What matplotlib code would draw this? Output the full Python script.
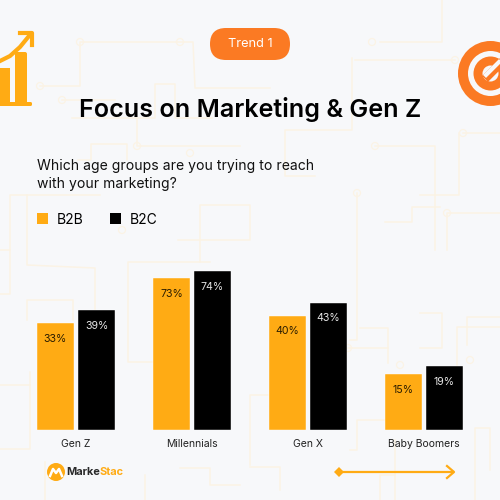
import numpy as np
import matplotlib
matplotlib.use('Agg')
import matplotlib.pyplot as plt
from matplotlib.patches import Circle, FancyBboxPatch, Polygon, Rectangle

plt.rcParams['font.family'] = ['Inter', 'DejaVu Sans']

# bar heights as drawn (they do not follow the printed percentages in the source)
categories = ['Gen Z', 'Millennials', 'Gen X', 'Baby Boomers']
b2b_heights = [107, 152, 114.5, 56]
b2c_heights = [120, 159, 127.5, 64]
b2b_labels = ['33%', '73%', '40%', '15%']
b2c_labels = ['39%', '74%', '43%', '19%']

ORANGE = '#fb7a23'
YELLOW = '#ffab14'
BG = '#f7f8fa'
TRACE = '#fbf3e5'

# faint circuit board lines in the background
traces = [
    [(40, 86), (80, 86), (80, 42), (193, 42), (195, 88), (270, 88)],
    [(62, 100), (115, 100)],
    [(72, 118), (155, 118), (155, 84), (175, 84), (175, 118), (212, 118)],
    [(78, 160), (91, 160), (91, 144), (127, 144), (127, 160)],
    [(137, 118), (137, 146), (240, 146)],
    [(352, 58), (352, 130), (285, 130), (285, 176), (315, 176)],
    [(0, 250), (10, 250), (10, 195), (25, 195), (100, 195)],
    [(27, 195), (27, 265), (95, 268), (95, 320)],
    [(0, 294), (10, 294), (10, 250)],
    [(27, 320), (27, 300), (73, 300), (73, 320)],
    [(155, 362), (128, 362), (128, 262), (210, 262)],
    [(200, 262), (200, 205), (250, 205), (250, 240), (178, 240)],
    [(30, 372), (30, 449), (0, 449)],
    [(0, 385), (30, 385)],
    [(180, 468), (210, 468), (210, 485), (240, 485)],
    [(45, 462), (45, 500)],
    [(145, 475), (145, 500)],
    [(375, 146), (435, 146), (435, 250)],
    [(380, 42), (442, 42), (442, 0)],
    [(355, 60), (455, 60)],
    [(463, 133), (500, 133)],
    [(459, 133), (459, 195), (420, 195)],
    [(440, 207), (412, 207), (412, 222), (385, 222)],
    [(500, 213), (447, 213), (447, 250)],
    [(357, 193), (357, 340), (350, 340)],
    [(348, 348), (388, 348)],
    [(360, 328), (388, 328), (388, 363)],
    [(420, 313), (442, 313), (442, 348), (420, 348)],
    [(500, 327), (457, 327), (457, 400)],
    [(500, 317), (467, 317), (467, 345)],
    [(250, 465), (250, 395), (268, 395)],
    [(250, 467), (280, 467), (280, 490)],
    [(400, 420), (357, 420), (357, 450), (350, 450)],
    [(490, 470), (490, 428), (475, 428), (475, 500)],
    [(395, 440), (395, 500)],
    [(395, 475), (380, 475), (380, 500)],
]
nodes = [(80, 42), (180, 42), (40, 86), (62, 100), (137, 146), (190, 153), (122, 230), (375, 146),
         (372, 42), (455, 60), (463, 133), (357, 193), (348, 348), (400, 365), (447, 213), (470, 360)]

fig = plt.figure(figsize=(5, 5), dpi=100, facecolor=BG)

# pixel space overlay for the decorations, y goes down like in the image
bg = fig.add_axes([0, 0, 1, 1])
bg.set_xlim(0, 500)
bg.set_ylim(500, 0)
bg.axis('off')

for t in traces:
    xs, ys = zip(*t)
    bg.plot(xs, ys, color=TRACE, lw=1.1, zorder=1, solid_joinstyle='round')
for x, y in nodes:
    bg.add_patch(Circle((x, y), 3.5, fill=False, ec=TRACE, lw=0.9, zorder=1))

# pill
bg.add_patch(FancyBboxPatch((210, 28), 80, 32, boxstyle='round,pad=0,rounding_size=16',
                            fc=ORANGE, ec='none', zorder=3))
bg.text(250, 44, 'Trend 1', color='white', fontsize=9.2, ha='center', va='center', zorder=4)

# chart icon top left
bg.add_patch(Rectangle((-2, 68), 12, 36, fc=YELLOW, ec='none', zorder=3))
bg.add_patch(FancyBboxPatch((15, 52), 12, 52, boxstyle='round,pad=0,rounding_size=2',
                            fc=YELLOW, ec='none', zorder=3))
bg.add_patch(FancyBboxPatch((-2, 102), 34, 4, boxstyle='round,pad=0,rounding_size=1.5',
                            fc=YELLOW, ec='none', zorder=3))
bg.plot([-2, 10, 20, 29], [62, 56, 47, 36], color=YELLOW, lw=3, zorder=3)
bg.plot([20, 32, 32], [33, 33, 45], color=YELLOW, lw=3, zorder=3, solid_joinstyle='round')

# target icon top right
bg.add_patch(Circle((490.5, 73.5), 32.5, fc=ORANGE, ec='none', zorder=3))
bg.add_patch(Circle((490.5, 73.5), 22.5, fc=BG, ec='none', zorder=3))
bg.add_patch(Circle((490.5, 73.5), 17, fc=ORANGE, ec='none', zorder=3))
bg.add_patch(Circle((490.5, 73.5), 8, fc=BG, ec='none', zorder=3))
bg.plot([488, 512], [76, 52], color=ORANGE, lw=6, zorder=3)
bg.plot([486, 499], [75, 62], color=BG, lw=3, zorder=3)

# title and question
bg.text(250, 109, 'Focus on Marketing & Gen Z', color='black', fontsize=18.1, fontweight='semibold',
        ha='center', va='center', zorder=4)
bg.text(37, 166, 'Which age groups are you trying to reach', color='#111111', fontsize=10.1,
        ha='left', va='center', zorder=4)
bg.text(37, 184, 'with your marketing?', color='#111111', fontsize=10.1,
        ha='left', va='center', zorder=4)

# logo
bg.add_patch(Circle((56, 472), 9, fc=YELLOW, ec='none', zorder=3))
bg.plot([50, 53, 56, 59, 62], [476, 469, 473, 469, 476], color='white', lw=1.8, zorder=4)
bg.text(66, 472, 'Marke', color='#2a2a2a', fontsize=7.9, fontweight='bold', ha='left', va='center', zorder=4)
bg.text(99, 472, 'Stac', color=YELLOW, fontsize=7.9, fontweight='bold', ha='left', va='center', zorder=4)

# arrow bottom right
bg.plot([340, 453], [472, 472], color=YELLOW, lw=1.6, zorder=3)
bg.add_patch(Polygon([(334, 472), (339, 467), (344, 472), (339, 477)], fc=YELLOW, ec='none', zorder=3))
bg.plot([447, 454, 447], [466, 472, 478], color=YELLOW, lw=1.6, zorder=3)

# bars: baseline at y=430 px, groups 116 px apart, first group centred at 76 px
ax = fig.add_axes([0, 0.14, 1, 0.36], facecolor='none')
x = np.arange(len(categories))
width = 37 / 116
gap = 41 / 116 / 2
bars1 = ax.bar(x - gap, b2b_heights, width, color=YELLOW, edgecolor='white', linewidth=0.3, label='B2B')
bars2 = ax.bar(x + gap, b2c_heights, width, color='black', edgecolor='white', linewidth=0.3, label='B2C')
ax.set_xlim(-76 / 116, 424 / 116)
ax.set_ylim(0, 180)
ax.bar_label(bars1, labels=b2b_labels, label_type='edge', padding=-15, color='#2a1c00', fontsize=7.6)
ax.bar_label(bars2, labels=b2c_labels, label_type='edge', padding=-15, color='#e6e6e6', fontsize=7.6)

ax.set_xticks(x)
ax.set_xticklabels(categories, fontsize=7.5, color='#222222')
ax.tick_params(axis='x', length=0, pad=6.5)
ax.set_yticks([])
for s in ax.spines.values():
    s.set_visible(False)

leg = ax.legend(loc='upper left', bbox_to_anchor=(37 / 500, 1 - 212.5 / 500), bbox_transform=fig.transFigure,
                ncol=2, frameon=False, fontsize=10, handlelength=0.8, handleheight=0.8,
                handletextpad=0.6, columnspacing=1.95, borderpad=0, borderaxespad=0)
for h in leg.legend_handles:
    h.set_edgecolor('none')

fig.savefig('out.png', dpi=100, facecolor=BG)
plt.close(fig)
